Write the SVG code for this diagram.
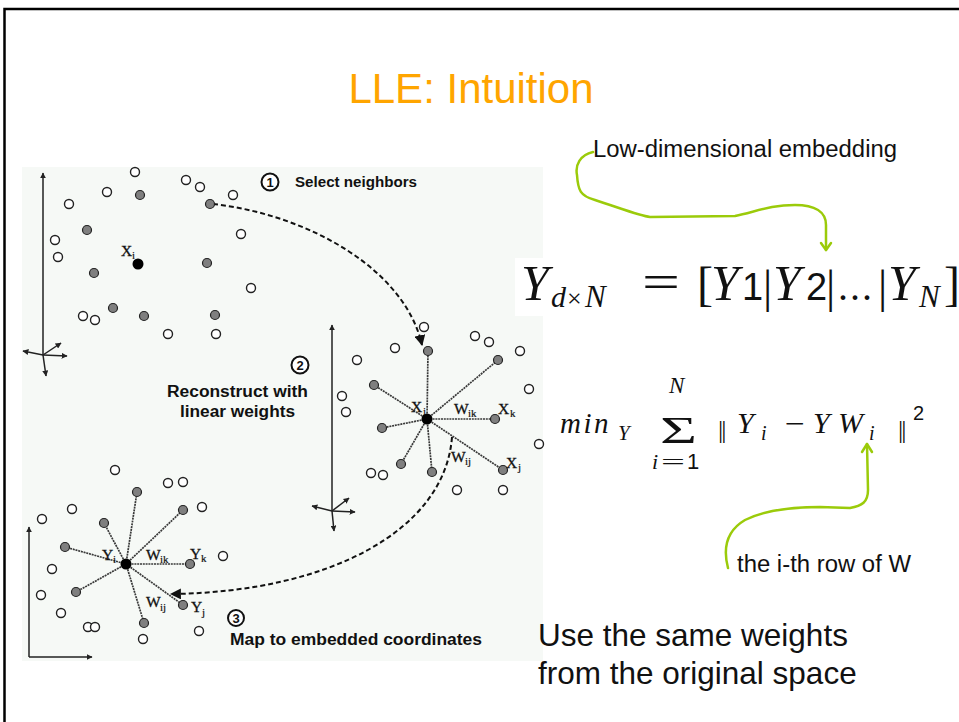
<svg xmlns="http://www.w3.org/2000/svg" width="959" height="722" viewBox="0 0 959 722">
<defs>
<style>
.h{fill:#fff;stroke:#222;stroke-width:1.4}
.g{fill:#7f7f7f;stroke:#222;stroke-width:1.2}
.b{fill:#000}
.sp{stroke:#3a3a3a;stroke-width:1.7;stroke-dasharray:2 0.8;fill:none}
.da{fill:none;stroke:#111;stroke-width:2;stroke-dasharray:5 3}
.ax{fill:none;stroke:#222;stroke-width:1.5}
.gr{fill:none;stroke:#9bcb0a;stroke-width:2.5;stroke-linecap:round;stroke-linejoin:round}
.lab{font-family:"Liberation Serif",serif;font-size:15.5px;fill:#111;stroke:#111;stroke-width:0.3}
.sub{font-family:"Liberation Serif",serif;font-size:11px;fill:#111;stroke:#111;stroke-width:0.2}
.step{font-family:"Liberation Sans",Arial,sans-serif;font-weight:bold;fill:#111}
.num{font-family:"Liberation Sans",Arial,sans-serif;font-weight:bold;font-size:13px;fill:#111;text-anchor:middle}
.circ{fill:#fff;stroke:#111;stroke-width:2}
.note{font-family:"Liberation Sans",Arial,sans-serif;fill:#111}
.mi{font-family:"Liberation Serif","DejaVu Serif",serif;font-style:italic;fill:#111}
.mu{font-family:"Liberation Serif","DejaVu Serif",serif;fill:#111}
.ms{font-family:"Liberation Sans",Arial,sans-serif;fill:#111}
</style>
<marker id="ah" viewBox="0 0 10 10" refX="9" refY="5" markerWidth="11" markerHeight="11" markerUnits="userSpaceOnUse" orient="auto">
<path d="M0,0 L10,5 L0,10 z" fill="#111"/>
</marker>
<marker id="axh" viewBox="0 0 10 10" refX="9" refY="5" markerWidth="6" markerHeight="6" markerUnits="userSpaceOnUse" orient="auto">
<path d="M0,0 L10,5 L0,10 z" fill="#222"/>
</marker>
</defs>
<rect x="0" y="0" width="959" height="722" fill="#fff"/>
<g id="frame">
<path d="M4.5,722 L4.5,9 L959,9" fill="none" stroke="#000" stroke-width="2.5"/>
</g>
<g id="title">
<text x="471" y="103" text-anchor="middle" font-family="Liberation Sans, Arial, sans-serif" font-size="42" fill="#ffa500">LLE: Intuition</text>
</g>
<g id="figure">
<rect x="22" y="167" width="521" height="494" fill="#f6f9f6"/>
<rect x="515" y="258" width="28" height="58" fill="#fff"/>
<g id="axes">
<line class="ax" x1="43" y1="355" x2="43" y2="173" marker-end="url(#axh)"/>
<line class="ax" x1="43" y1="355" x2="23" y2="351" marker-end="url(#axh)"/>
<line class="ax" x1="43" y1="355" x2="67" y2="356" marker-end="url(#axh)"/>
<line class="ax" x1="43" y1="355" x2="61" y2="343" marker-end="url(#axh)"/>
<line class="ax" x1="43" y1="355" x2="46" y2="376" marker-end="url(#axh)"/>
<line class="ax" x1="332" y1="511" x2="332" y2="325" marker-end="url(#axh)"/>
<line class="ax" x1="332" y1="511" x2="312" y2="506" marker-end="url(#axh)"/>
<line class="ax" x1="332" y1="511" x2="355" y2="512" marker-end="url(#axh)"/>
<line class="ax" x1="332" y1="511" x2="349" y2="498" marker-end="url(#axh)"/>
<line class="ax" x1="332" y1="511" x2="334" y2="531" marker-end="url(#axh)"/>
<path class="ax" d="M29,657 L29,527" marker-end="url(#axh)"/>
<path class="ax" d="M29,657 L92,657" marker-end="url(#axh)"/>
</g>
<g id="connectors">
<path class="da" d="M213,204 C310,215 405,270 422,345" marker-end="url(#ah)"/>
<path class="da" d="M452,437 C445,530 330,592 171,594" marker-end="url(#ah)"/>
</g>
<g id="cluster1">
<circle class="h" cx="135" cy="172" r="4.5"/>
<circle class="h" cx="186" cy="180" r="4.5"/>
<circle class="h" cx="200" cy="187" r="4.5"/>
<circle class="h" cx="107" cy="192" r="4.5"/>
<circle class="h" cx="233" cy="195" r="4.5"/>
<circle class="h" cx="69" cy="204" r="4.5"/>
<circle class="h" cx="241" cy="234" r="4.5"/>
<circle class="h" cx="55" cy="240" r="4.5"/>
<circle class="h" cx="58" cy="257" r="4.5"/>
<circle class="h" cx="251" cy="288" r="4.5"/>
<circle class="h" cx="83" cy="316" r="4.5"/>
<circle class="h" cx="95" cy="320" r="4.5"/>
<circle class="h" cx="168" cy="334" r="4.5"/>
<circle class="h" cx="216" cy="334" r="4.5"/>
<circle class="g" cx="140" cy="195" r="4.5"/>
<circle class="g" cx="210" cy="204" r="4.5"/>
<circle class="g" cx="87" cy="230" r="4.5"/>
<circle class="g" cx="207" cy="263" r="4.5"/>
<circle class="g" cx="94" cy="273" r="4.5"/>
<circle class="g" cx="113" cy="308" r="4.5"/>
<circle class="g" cx="144" cy="316" r="4.5"/>
<circle class="g" cx="215" cy="315" r="4.5"/>
<circle class="b" cx="138" cy="264" r="5.5"/>
<text class="lab" x="121" y="256">X</text><text class="sub" x="132" y="259">i</text>
</g>
<g id="cluster2">
<line class="sp" x1="427" y1="419" x2="428" y2="351"/>
<line class="sp" x1="427" y1="419" x2="498" y2="360"/>
<line class="sp" x1="427" y1="419" x2="374" y2="385"/>
<line class="sp" x1="427" y1="419" x2="495" y2="419"/>
<line class="sp" x1="427" y1="419" x2="382" y2="428"/>
<line class="sp" x1="427" y1="419" x2="401" y2="464"/>
<line class="sp" x1="427" y1="419" x2="432" y2="472"/>
<line class="sp" x1="427" y1="419" x2="503" y2="470"/>
<circle class="h" cx="424" cy="327" r="4.5"/>
<circle class="h" cx="475" cy="336" r="4.5"/>
<circle class="h" cx="489" cy="342" r="4.5"/>
<circle class="h" cx="520" cy="351" r="4.5"/>
<circle class="h" cx="395" cy="348" r="4.5"/>
<circle class="h" cx="357" cy="360" r="4.5"/>
<circle class="h" cx="529" cy="389" r="4.5"/>
<circle class="h" cx="342" cy="396" r="4.5"/>
<circle class="h" cx="346" cy="412" r="4.5"/>
<circle class="h" cx="539" cy="444" r="4.5"/>
<circle class="h" cx="371" cy="473" r="4.5"/>
<circle class="h" cx="383" cy="475" r="4.5"/>
<circle class="h" cx="457" cy="490" r="4.5"/>
<circle class="h" cx="503" cy="490" r="4.5"/>
<circle class="g" cx="428" cy="351" r="4.5"/>
<circle class="g" cx="498" cy="360" r="4.5"/>
<circle class="g" cx="374" cy="385" r="4.5"/>
<circle class="g" cx="495" cy="419" r="4.5"/>
<circle class="g" cx="382" cy="428" r="4.5"/>
<circle class="g" cx="401" cy="464" r="4.5"/>
<circle class="g" cx="432" cy="472" r="4.5"/>
<circle class="g" cx="503" cy="470" r="4.5"/>
<circle class="b" cx="427" cy="419" r="5.5"/>
<text class="lab" x="411" y="412">X</text><text class="sub" x="423" y="415">i</text>
<text class="lab" x="454" y="414">W</text><text class="sub" x="468" y="417">ik</text>
<text class="lab" x="498" y="414">X</text><text class="sub" x="510" y="417">k</text>
<text class="lab" x="451" y="462">W</text><text class="sub" x="465" y="465">ij</text>
<text class="lab" x="506" y="468">X</text><text class="sub" x="518" y="471">j</text>
</g>
<g id="cluster3">
<line class="sp" x1="126" y1="564" x2="137" y2="492"/>
<line class="sp" x1="126" y1="564" x2="183" y2="510"/>
<line class="sp" x1="126" y1="564" x2="104" y2="523"/>
<line class="sp" x1="126" y1="564" x2="65" y2="547"/>
<line class="sp" x1="126" y1="564" x2="190" y2="564"/>
<line class="sp" x1="126" y1="564" x2="76" y2="592"/>
<line class="sp" x1="126" y1="564" x2="183" y2="605"/>
<line class="sp" x1="126" y1="564" x2="144" y2="623"/>
<circle class="h" cx="115" cy="470" r="4.5"/>
<circle class="h" cx="168" cy="483" r="4.5"/>
<circle class="h" cx="183" cy="482" r="4.5"/>
<circle class="h" cx="72" cy="509" r="4.5"/>
<circle class="h" cx="202" cy="507" r="4.5"/>
<circle class="h" cx="42" cy="519" r="4.5"/>
<circle class="h" cx="223" cy="556" r="4.5"/>
<circle class="h" cx="52" cy="569" r="4.5"/>
<circle class="h" cx="41" cy="595" r="4.5"/>
<circle class="h" cx="61" cy="613" r="4.5"/>
<circle class="h" cx="88" cy="627" r="4.5"/>
<circle class="h" cx="95" cy="627" r="4.5"/>
<circle class="h" cx="199" cy="631" r="4.5"/>
<circle class="h" cx="143" cy="639" r="4.5"/>
<circle class="g" cx="137" cy="492" r="4.5"/>
<circle class="g" cx="183" cy="510" r="4.5"/>
<circle class="g" cx="104" cy="523" r="4.5"/>
<circle class="g" cx="65" cy="547" r="4.5"/>
<circle class="g" cx="190" cy="564" r="4.5"/>
<circle class="g" cx="76" cy="592" r="4.5"/>
<circle class="g" cx="183" cy="605" r="4.5"/>
<circle class="g" cx="144" cy="623" r="4.5"/>
<circle class="b" cx="126" cy="564" r="5.5"/>
<text class="lab" x="102" y="560">Y</text><text class="sub" x="113" y="563">i</text>
<text class="lab" x="146" y="560">W</text><text class="sub" x="160" y="563">ik</text>
<text class="lab" x="190" y="559">Y</text><text class="sub" x="201" y="562">k</text>
<text class="lab" x="146" y="607">W</text><text class="sub" x="160" y="611">ij</text>
<text class="lab" x="191" y="612">Y</text><text class="sub" x="202" y="616">j</text>
</g>
<g id="step1">
<circle class="circ" cx="270" cy="182" r="8.5"/>
<text class="num" x="270" y="187">1</text>
<text class="step" x="295" y="187" font-size="14" textLength="122" lengthAdjust="spacingAndGlyphs">Select neighbors</text>
</g>
<g id="step2">
<circle class="circ" cx="300" cy="365" r="8.5"/>
<text class="num" x="300" y="370">2</text>
<text class="step" x="167" y="397" font-size="16" textLength="141" lengthAdjust="spacingAndGlyphs">Reconstruct with</text>
<text class="step" x="180" y="417" font-size="16" textLength="115" lengthAdjust="spacingAndGlyphs">linear weights</text>
</g>
<g id="step3">
<circle class="circ" cx="236" cy="618" r="8"/>
<text class="num" x="236" y="623">3</text>
<text class="step" x="230" y="645" font-size="16" textLength="252" lengthAdjust="spacingAndGlyphs">Map to embedded coordinates</text>
</g>
</g>
<g id="annotations">
<text class="note" x="593" y="157" font-size="23" textLength="304" lengthAdjust="spacingAndGlyphs">Low-dimensional embedding</text>
<path class="gr" d="M593,152 C580,155 575,165 577,175 C578,190 580,196 595,200 C620,208 640,216 650,217 L735,216 C755,212 770,205 795,205 C815,205 826,212 826,225 L826,250"/>
<polyline class="gr" points="821,243 826,250 831,243"/>
<text class="note" x="737" y="572" font-size="23" textLength="174" lengthAdjust="spacingAndGlyphs">the i-th row of W</text>
<path class="gr" d="M728,568 C722,545 728,530 745,520 C765,510 790,507 820,507 L850,508 C862,506 868,502 868,490 L867,444"/>
<polyline class="gr" points="862,452 867,444 872,452"/>
<text class="note" x="538" y="646" font-size="31.5">Use the same weights</text>
<text class="note" x="538" y="684" font-size="31.5">from the original space</text>
</g>
<g id="formula1">
<text class="mi" x="521" y="300" font-size="50">Y</text>
<text class="mi" x="551" y="307" font-size="30">d</text>
<text class="mu" x="567" y="307" font-size="26">×</text>
<text class="mi" x="585" y="307" font-size="31">N</text>
<text class="mu" x="642" y="298" font-size="48" textLength="38" lengthAdjust="spacingAndGlyphs">=</text>
<text class="mu" x="697" y="300" font-size="48">[</text>
<text class="mi" x="711" y="300" font-size="50">Y</text>
<text class="ms" x="742" y="300" font-size="38">1</text>
<text class="mu" x="763" y="302" font-size="46">|</text>
<text class="mi" x="773" y="300" font-size="50">Y</text>
<text class="ms" x="806" y="300" font-size="38">2</text>
<text class="mu" x="826" y="302" font-size="46">|</text>
<text class="mu" x="838" y="300" font-size="40" letter-spacing="2">...</text>
<text class="mu" x="878" y="302" font-size="46">|</text>
<text class="mi" x="888" y="300" font-size="50">Y</text>
<text class="mi" x="919" y="307" font-size="31">N</text>
<text class="mu" x="944" y="300" font-size="48">]</text>
</g>
<g id="formula2">
<text class="mi" x="560" y="433" font-size="29" letter-spacing="2.5">min</text>
<text class="mi" x="618" y="440" font-size="21">Y</text>
<text class="mu" x="660" y="443" font-size="38" textLength="37" lengthAdjust="spacingAndGlyphs">Σ</text>
<text class="mi" x="669" y="393" font-size="23">N</text>
<text class="mi" x="652" y="469" font-size="22">i</text>
<text class="mu" x="661" y="469" font-size="22" textLength="24" lengthAdjust="spacingAndGlyphs">=</text>
<text class="ms" x="687" y="469" font-size="22">1</text>
<text class="mu" x="718" y="438" font-size="26" letter-spacing="-2">||</text>
<text class="mi" x="737" y="433" font-size="30">Y</text>
<text class="mi" x="761" y="440" font-size="20">i</text>
<text class="mu" x="785" y="433" font-size="28" textLength="20" lengthAdjust="spacingAndGlyphs">−</text>
<text class="mi" x="813" y="433" font-size="30">Y</text>
<text class="mi" x="838" y="433" font-size="30">W</text>
<text class="mi" x="869" y="440" font-size="20">i</text>
<text class="mu" x="898" y="438" font-size="26" letter-spacing="-2">||</text>
<text class="ms" x="913" y="420" font-size="20">2</text>
</g>
</svg>
